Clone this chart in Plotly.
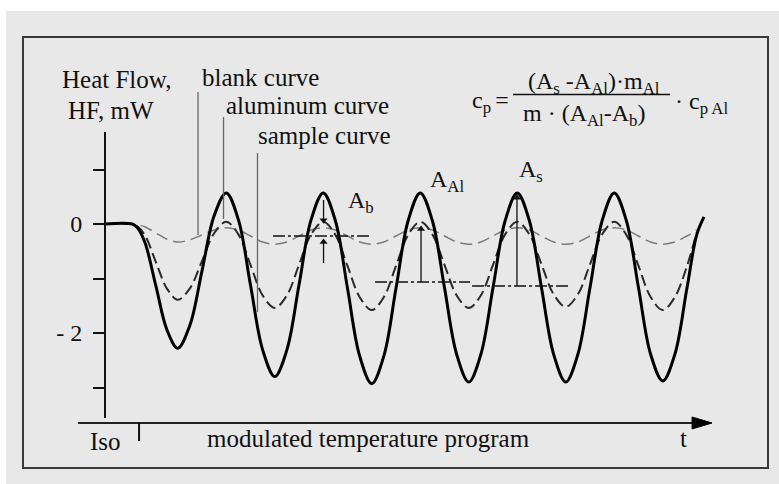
import plotly.graph_objects as go

# ---- data (time in modulation periods, heat flow in mW) ----
t_sample = [0, 0.28, 0.33, 0.41, 0.525, 0.64, 0.75, 0.875, 1.0, 1.125, 1.25, 1.375, 1.5, 1.625, 1.75,
            1.875, 2.0, 2.125, 2.25, 2.375, 2.5, 2.625, 2.75, 2.875, 3.0, 3.125, 3.25, 3.375,
            3.5, 3.625, 3.75, 3.875, 4.0, 4.125, 4.25, 4.375, 4.5, 4.625, 4.75, 4.875, 5.0,
            5.125, 5.25, 5.375, 5.5, 5.625, 5.75, 5.875, 6.0, 6.1, 6.175]
hf_sample = [0, 0, -0.06, -0.33, -1.14, -1.95, -2.28, -1.86, -0.86, 0.15, 0.57, 0.08, -1.12, -2.31, -2.8,
             -2.31, -1.12, 0.08, 0.57, 0.06, -1.18, -2.42, -2.93, -2.42, -1.18, 0.06, 0.57, 0.06,
             -1.17, -2.39, -2.9, -2.39, -1.17, 0.06, 0.57, 0.06, -1.17, -2.39, -2.9, -2.39, -1.17,
             0.06, 0.57, 0.06, -1.17, -2.39, -2.88, -2.39, -1.17, -0.2, 0.13]

t_ref = [0, 0.28, 0.33, 0.41, 0.525, 0.64, 0.75, 0.875, 1.0, 1.125, 1.25, 1.375, 1.5, 1.625, 1.75,
         1.875, 2.0, 2.125, 2.25, 2.375, 2.5, 2.625, 2.75, 2.875, 3.0, 3.125, 3.25, 3.375,
         3.5, 3.625, 3.75, 3.875, 4.0, 4.125, 4.25, 4.375, 4.5, 4.625, 4.75, 4.875, 5.0,
         5.125, 5.25, 5.375, 5.5, 5.625, 5.75, 5.875, 6.0, 6.1]
hf_aluminum = [0, 0, -0.04, -0.2, -0.7, -1.19, -1.39, -1.18, -0.68, -0.17, 0.04, -0.19, -0.75, -1.31, -1.54,
               -1.31, -0.75, -0.19, 0.04, -0.2, -0.77, -1.34, -1.58, -1.34, -0.77, -0.2, 0.04, -0.19,
               -0.75, -1.31, -1.54, -1.31, -0.75, -0.19, 0.04, -0.19, -0.74, -1.29, -1.52, -1.29, -0.74,
               -0.19, 0.04, -0.2, -0.77, -1.34, -1.58, -1.34, -0.77, -0.15]
hf_blank = [0, 0, -0.01, -0.05, -0.165, -0.28, -0.33, -0.29, -0.2, -0.11, -0.07, -0.11, -0.22, -0.33, -0.37,
            -0.33, -0.22, -0.11, -0.07, -0.11, -0.22, -0.33, -0.37, -0.33, -0.22, -0.11, -0.07, -0.11,
            -0.22, -0.33, -0.37, -0.33, -0.22, -0.11, -0.07, -0.11, -0.22, -0.33, -0.37, -0.33, -0.22,
            -0.11, -0.07, -0.11, -0.22, -0.33, -0.37, -0.33, -0.22, -0.11]

y_label_vals = [-2, 0]
y_label_text = ["- 2", "0"]
y_minor_vals = [-3, -1, 1]

FONT = "Liberation Serif, Times New Roman, Times, serif"
INK = "#111111"

fig = go.Figure()

fig.add_trace(go.Scatter(x=t_ref, y=hf_blank, mode="lines", line_shape="spline",
                         line=dict(color="#7a7a7a", width=1.5, dash="12px,6px"),
                         hoverinfo="skip", showlegend=False))
fig.add_trace(go.Scatter(x=t_ref, y=hf_aluminum, mode="lines", line_shape="spline",
                         line=dict(color="#2a2a2a", width=2, dash="11px,5px"),
                         hoverinfo="skip", showlegend=False))
fig.add_trace(go.Scatter(x=t_sample, y=hf_sample, mode="lines", line_shape="spline",
                         line=dict(color="#000000", width=3),
                         hoverinfo="skip", showlegend=False))

# amplitude reference (dash-dot) lines
for (x0, x1, yv) in [(1.732, 2.753, -0.22), (2.784, 3.763, -1.064), (3.784, 4.773, -1.138)]:
    fig.add_trace(go.Scatter(x=[x0, x1], y=[yv, yv], mode="lines",
                             line=dict(color="#111", width=1.3, dash="12px,3px,3px,3px"),
                             hoverinfo="skip", showlegend=False))

# amplitude arrows: shaft + head
for (xa, ytail, yhead, sym) in [(2.253, 0.44, 0.07, "triangle-down"),
                                (2.253, -0.716, -0.33, "triangle-up"),
                                (3.258, -1.064, -0.09, "triangle-up"),
                                (4.247, -1.138, 0.48, "triangle-up")]:
    fig.add_trace(go.Scatter(x=[xa, xa], y=[ytail, yhead], mode="lines",
                             line=dict(color="#111", width=1.3),
                             hoverinfo="skip", showlegend=False))
    fig.add_trace(go.Scatter(x=[xa], y=[yhead], mode="markers",
                             marker=dict(symbol=sym, size=7, color="#111"),
                             hoverinfo="skip", showlegend=False))

# leader lines
for (xl, y0, y1) in [(0.959, 2.422, -0.202), (1.222, 1.963, 0.092), (1.572, 1.303, -1.615)]:
    fig.add_trace(go.Scatter(x=[xl, xl], y=[y0, y1], mode="lines",
                             line=dict(color="#666666", width=1.3),
                             hoverinfo="skip", showlegend=False))

shapes = [
    dict(type="rect", xref="paper", yref="paper", x0=6/779, x1=1.0, y0=0, y1=1-11/484,
         fillcolor="#e8e8e8", line=dict(width=0), layer="below"),
    dict(type="rect", xref="paper", yref="paper", x0=23/779, x1=768/779, y0=1-468/484, y1=1-37/484,
         fillcolor="rgba(0,0,0,0)", line=dict(color="#3a3a3a", width=2), layer="below"),
    # y axis line
    dict(type="line", xref="x", yref="y", x0=0, x1=0, y0=-3.56, y1=1.688,
         line=dict(color="#111", width=2)),
    # time axis line
    dict(type="line", xref="x", yref="y", x0=-0.278, x1=6.1, y0=-3.651, y1=-3.651,
         line=dict(color="#222", width=1.8)),
    dict(type="path", xref="x", yref="y",
         path="M 6.052,-3.541 L 6.258,-3.651 L 6.052,-3.761 Z",
         fillcolor="#000", line=dict(color="#000", width=1)),
    # Iso / modulated separator tick
    dict(type="line", xref="x", yref="y", x0=0.351, x1=0.351, y0=-3.651, y1=-3.982,
         line=dict(color="#111", width=2)),
    # fraction bar
    dict(type="line", xref="x", yref="y", x0=4.206, x1=5.825, y0=2.376, y1=2.376,
         line=dict(color="#111", width=1.3)),
]

def txt(x, y, s, size=25, xanchor="left"):
    return dict(x=x, y=y, xref="x", yref="y", text=s, showarrow=False,
                xanchor=xanchor, yanchor="middle",
                font=dict(family=FONT, size=size, color=INK))

annotations = [
    txt(-0.464, 2.651, "Heat Flow,"),
    txt(-0.402, 2.083, "HF, mW"),
    txt(0.979, 2.679, "blank curve"),
    txt(1.227, 2.174, "aluminum curve"),
    txt(1.557, 1.624, "sample curve"),
    txt(-0.175, -3.982, "Iso"),
    txt(1.031, -3.927, "modulated temperature program"),
    txt(5.964, -3.936, "t", xanchor="center"),
    txt(2.485, 0.40, "A<sub>b</sub>", size=24),
    txt(3.33, 0.79, "A<sub>Al</sub>", size=24),
    txt(4.247, 0.97, "A<sub>s</sub>", size=24),
    txt(4.185, 2.24, "c<sub>p </sub>=", size=24, xanchor="right"),
    txt(5.046, 2.58, "(A<sub>s</sub> -A<sub>Al</sub>)·m<sub>Al</sub>", size=24, xanchor="center"),
    txt(4.933, 2.00, "m · (A<sub>Al</sub>-A<sub>b</sub>)", size=24, xanchor="center"),
    txt(5.856, 2.22, "· c<sub>p Al</sub>", size=24),
]

fig.update_layout(
    width=779, height=484,
    margin=dict(l=0, r=0, t=0, b=0),
    font=dict(family=FONT, color=INK),
    paper_bgcolor="white", plot_bgcolor="rgba(0,0,0,0)",
    shapes=shapes, annotations=annotations,
    xaxis=dict(range=[-105/97, 674/97], visible=False, fixedrange=True),
    yaxis=dict(range=[(224-484)/54.5, 224/54.5], anchor="free", position=105/779,
               showgrid=False, zeroline=False, showline=False,
               ticks="outside", ticklen=12, tickwidth=2, tickcolor="#111",
               tickvals=y_label_vals, ticktext=y_label_text, ticklabelstandoff=6,
               tickfont=dict(family=FONT, size=24, color=INK), fixedrange=True,
               minor=dict(tickvals=y_minor_vals, ticks="outside", ticklen=12,
                          tickwidth=2, tickcolor="#111", showgrid=False)),
    showlegend=False,
)

fig.write_html("out.html", config={"displayModeBar": False},
               post_script="document.body.style.margin='0';document.body.style.overflow='hidden';")
